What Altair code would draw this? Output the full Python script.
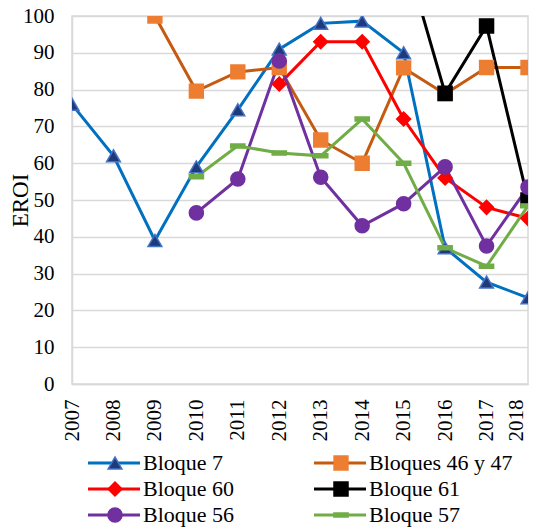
import altair as alt
import pandas as pd

years = [2007, 2008, 2009, 2010, 2011, 2012, 2013, 2014, 2015, 2016, 2017, 2018]
series_names = ["Bloque 7", "Bloques 46 y 47", "Bloque 60", "Bloque 61", "Bloque 56", "Bloque 57"]

bloque_7 = [76, 62, 39, 59, 74.5, 91, 98, 98.6, 90, 37, 27.7, 23.4]
bloques_46_47 = [None, None, 100, 79.6, 84.8, 86, 66.3, 60, 85.9, 78.8, 86, 86]
bloque_60 = [None, None, None, None, None, 81.5, 93, 93, 72, 56, 48, 45]
bloque_61 = [None, None, None, None, None, None, None, None, 118, 79, 97.3, 50]
bloque_56 = [None, None, None, 46.5, 55.7, 87.8, 56.2, 43, 49, 59, 37.5, 53.5]
bloque_57 = [None, None, None, 56.3, 64.7, 62.8, 62, 72, 60, 37, 32, 48.4]

line_colors = ["#0070C0", "#C55A11", "#FF0000", "#000000", "#7030A0", "#70AD47"]
fill_colors = ["#1F3A7A", "#ED7D31", "#FF0000", "#000000", "#7030A0", "#70AD47"]
stroke_colors = ["#4472C4", "#ED7D31", "#FF0000", "#000000", "#7030A0", "#70AD47"]
shapes = ["triangle-up", "square", "diamond", "square", "circle",
          "M-1,-0.28L1,-0.28L1,0.28L-1,0.28Z"]
sizes = [190, 200, 170, 200, 170, 170]

legend_col = [0, 1, 0, 1, 0, 1]
legend_row = [0, 0, 1, 1, 2, 2]

all_series = [bloque_7, bloques_46_47, bloque_60, bloque_61, bloque_56, bloque_57]
rows = []
for i, (name, vals) in enumerate(zip(series_names, all_series)):
    for y, v in zip(years, vals):
        if v is not None:
            rows.append({"year": str(y), "EROI": v, "series": name, "order": i})
df = pd.DataFrame(rows)

leg = pd.DataFrame({"series": series_names, "col": legend_col, "row": legend_row})

FONT = "Liberation Serif"

color_scale = alt.Scale(domain=series_names, range=line_colors)
fill_scale = alt.Scale(domain=series_names, range=fill_colors)
stroke_scale = alt.Scale(domain=series_names, range=stroke_colors)
shape_scale = alt.Scale(domain=series_names, range=shapes)
size_scale = alt.Scale(domain=series_names, range=sizes)

last_label_shift = {"condition": {"test": "datum.label == '2018'", "value": -12}, "value": 0}

x_enc = alt.X("year:O", scale=alt.Scale(type="point", padding=0),
              axis=alt.Axis(title=None, labelAngle=270, labelFont=FONT, labelFontSize=21,
                            labelColor="#000000", labelPadding=15, ticks=False,
                            labelOffset=last_label_shift,
                            domainColor="#D9D9D9", domainWidth=1.5, grid=False))
y_enc = alt.Y("EROI:Q", scale=alt.Scale(domain=[0, 100], nice=False),
              axis=alt.Axis(title="EROI", values=list(range(0, 101, 10)), labelFont=FONT,
                            labelFontSize=21, labelColor="#000000", labelPadding=18,
                            ticks=False, domainColor="#D9D9D9", domainWidth=1.5,
                            gridColor="#D9D9D9", gridWidth=1.5, titleFont=FONT,
                            titleFontSize=23, titleFontWeight="normal", titleColor="#000000",
                            titlePadding=-10))

base = alt.Chart(df)
lines = base.mark_line(strokeWidth=3, clip=True).encode(
    x=x_enc, y=y_enc,
    color=alt.Color("series:N", scale=color_scale, legend=None),
    order=alt.Order("order:Q"),
)
points = base.mark_point(filled=True, opacity=1, strokeWidth=1.5, clip=True).encode(
    x=x_enc, y=y_enc,
    fill=alt.Fill("series:N", scale=fill_scale, legend=None),
    stroke=alt.Stroke("series:N", scale=stroke_scale, legend=None),
    shape=alt.Shape("series:N", scale=shape_scale, legend=None),
    size=alt.Size("series:N", scale=size_scale, legend=None),
    order=alt.Order("order:Q"),
)
main = alt.layer(lines, points).properties(
    width=456, height=368,
    view=alt.ViewBackground(stroke="#D9D9D9", strokeWidth=1.5),
)

lx = alt.X("col:Q", scale=alt.Scale(domain=[0, 1], range=[0, 226]), axis=None)
ly = alt.Y("row:O", scale=alt.Scale(type="point", padding=0.5), axis=None)
lbase = alt.Chart(leg)
lrule = lbase.mark_rule(strokeWidth=3, xOffset=16, x2Offset=68).encode(
    x=lx, x2=alt.X2("col"), y=ly,
    color=alt.Color("series:N", scale=color_scale, legend=None),
)
lpoint = lbase.mark_point(filled=True, opacity=1, strokeWidth=1.5, xOffset=43).encode(
    x=lx, y=ly,
    fill=alt.Fill("series:N", scale=fill_scale, legend=None),
    stroke=alt.Stroke("series:N", scale=stroke_scale, legend=None),
    shape=alt.Shape("series:N", scale=shape_scale, legend=None),
    size=alt.Size("series:N", scale=size_scale, legend=None),
)
ltext = lbase.mark_text(align="left", baseline="middle", xOffset=71, font=FONT,
                        fontSize=22, color="#000000").encode(
    x=lx, y=ly, text="series:N",
)
legend = alt.layer(lrule, lpoint, ltext).properties(
    width=440, height=78,
    view=alt.ViewBackground(stroke="transparent"),
)

chart = alt.vconcat(main, legend, spacing=7).resolve_scale(
    color="independent", fill="independent", stroke="independent",
    shape="independent", size="independent", x="independent", y="independent"
).properties(
    padding={"left": 0, "top": -4, "right": 0, "bottom": 0}
).configure(font=FONT)

chart.save("out.html", embed_options={"renderer": "svg", "actions": False})
